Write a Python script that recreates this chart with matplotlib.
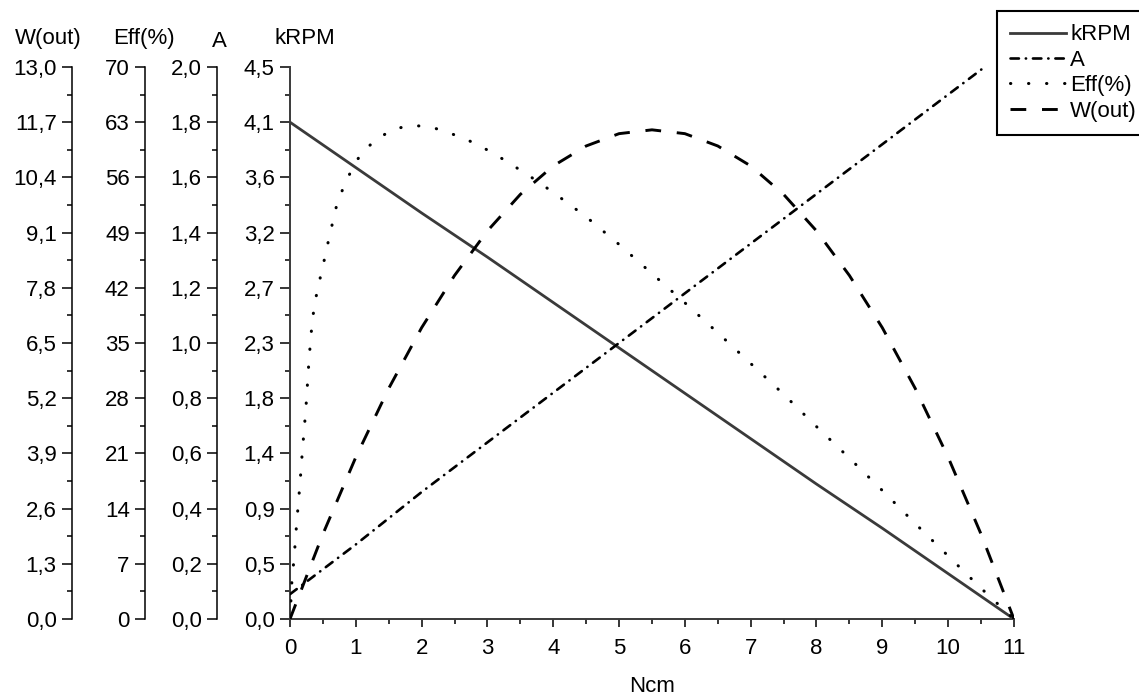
import matplotlib
matplotlib.use("Agg")
import matplotlib.pyplot as plt
from matplotlib.ticker import MultipleLocator

plt.rcParams["font.family"] = ["Liberation Sans", "DejaVu Sans"]
plt.rcParams["font.size"] = 16

# torque axis (Ncm)
torque = [0, 1, 2, 3, 4, 5, 6, 7, 8, 9, 10, 11]
krpm = [4.05, 3.68, 3.31, 2.95, 2.58, 2.21, 1.84, 1.47, 1.10, 0.74, 0.37, 0.0]
amps = [0.09, 0.27, 0.46, 0.64, 0.82, 1.00, 1.18, 1.36, 1.54, 1.72, 1.90, 2.08]

eff_torque = [0, 0.03, 0.06, 0.10, 0.15, 0.19, 0.24, 0.29, 0.34, 0.40, 0.46,
              0.52, 0.58, 0.64, 0.71, 0.81, 0.95, 1.08, 1.28, 1.56, 1.85, 2.14,
              2.40, 2.66, 2.93, 3.18, 3.41, 3.67, 4.0, 4.5, 5.0, 5.5, 6.0, 6.5,
              7.0, 7.5, 8.0, 8.5, 9.0, 9.5, 10.0, 10.5, 11.0]
eff = [0, 5.0, 7.5, 12.0, 17.0, 21.5, 26.5, 33.0, 38.0, 41.0, 43.3,
       45.5, 47.8, 50.0, 52.5, 54.7, 57.2, 59.0, 60.6, 62.1, 62.6, 62.4,
       61.7, 60.9, 59.8, 58.6, 57.4, 56.0, 54.1, 51.0, 47.5, 43.8, 40.1, 36.3,
       32.4, 28.5, 24.4, 20.4, 16.3, 12.1, 8.0, 3.9, 0.0]

w_torque = [0, 0.5, 1, 1.5, 2, 2.5, 3, 3.5, 4, 4.5, 5, 5.5, 6, 6.5, 7, 7.5,
            8, 8.5, 9, 9.5, 10, 10.5, 11]
w_out = [0, 2.00, 3.81, 5.43, 6.86, 8.09, 9.14, 10.00, 10.67, 11.14, 11.43,
         11.52, 11.43, 11.14, 10.67, 10.00, 9.14, 8.09, 6.86, 5.43, 3.81, 2.00, 0]

krpm_labels = ["0,0", "0,5", "0,9", "1,4", "1,8", "2,3", "2,7", "3,2", "3,6", "4,1", "4,5"]
amps_labels = ["0,0", "0,2", "0,4", "0,6", "0,8", "1,0", "1,2", "1,4", "1,6", "1,8", "2,0"]
eff_labels = ["0", "7", "14", "21", "28", "35", "42", "49", "56", "63", "70"]
w_labels = ["0,0", "1,3", "2,6", "3,9", "5,2", "6,5", "7,8", "9,1", "10,4", "11,7", "13,0"]

GRAY = "#3a3a3a"


def style_ticks(a):
    a.tick_params(axis="y", which="major", direction="out", length=7, width=1.1, pad=4)
    a.tick_params(axis="y", which="minor", direction="out", length=3.8, width=1.1)


def side_axis(offset, top, labels):
    a = ax.twinx()
    for s in ("right", "top", "bottom"):
        a.spines[s].set_visible(False)
    a.spines["left"].set_visible(True)
    a.spines["left"].set_position(("axes", offset))
    a.spines["left"].set_linewidth(1.1)
    a.yaxis.set_ticks_position("left")
    a.yaxis.set_label_position("left")
    a.set_ylim(0, top)
    step = top / 10
    a.set_yticks([step * i for i in range(11)], labels)
    a.yaxis.set_minor_locator(MultipleLocator(step / 2))
    style_ticks(a)
    return a


fig = plt.figure(figsize=(11.39, 7.0), dpi=100)
ax = fig.add_axes([0.2546, 0.1157, 0.6356, 0.7886])
ax.set_xlim(0, 11)
ax.set_ylim(0, 4.5)
ax.spines["top"].set_visible(False)
ax.spines["right"].set_visible(False)
for s in ("left", "bottom"):
    ax.spines[s].set_color(GRAY)
    ax.spines[s].set_linewidth(1.4)
ax.set_xticks(range(12))
ax.xaxis.set_minor_locator(MultipleLocator(0.5))
ax.tick_params(axis="x", which="major", direction="out", length=6, width=1.1, pad=8)
ax.tick_params(axis="x", which="minor", direction="out", length=3.5, width=1.1)
ax.set_yticks([0.45 * i for i in range(11)], krpm_labels)
ax.yaxis.set_minor_locator(MultipleLocator(0.225))
style_ticks(ax)
ax.set_xlabel("Ncm", labelpad=12)

ax_a = side_axis(-0.1008, 2.0, amps_labels)
ax_eff = side_axis(-0.2003, 70, eff_labels)
ax_w = side_axis(-0.3011, 13.0, w_labels)

l_krpm, = ax.plot(torque, krpm, color=GRAY, lw=2.0, label="kRPM")
l_a, = ax_a.plot(torque, amps, color="black", lw=1.9, label="A",
                 linestyle=(0, (3.2, 2.6, 0.1, 2.6)), dash_capstyle="round")
l_eff, = ax_eff.plot(eff_torque, eff, color="black", lw=2.2, label="Eff(%)",
                     linestyle=(0, (0.1, 5.8)), dash_capstyle="round")
l_w, = ax_w.plot(w_torque, w_out, color="black", lw=2.1, label="W(out)",
                 linestyle=(0, (5.4, 5.4)), dash_capstyle="butt")

fig.text(15 / 1139, 1 - 44 / 700, "W(out)", ha="left", va="baseline")
fig.text(113 / 1139, 1 - 44 / 700, "Eff(%)", ha="left", va="baseline")
fig.text(212 / 1139, 1 - 47 / 700, "A", ha="left", va="baseline")
fig.text(275 / 1139, 1 - 44 / 700, "kRPM", ha="left", va="baseline")

leg = fig.legend(handles=[l_krpm, l_a, l_eff, l_w], loc="upper left",
                 bbox_to_anchor=(997 / 1139, 1 - 11 / 700), borderaxespad=0,
                 fancybox=False, edgecolor="black", framealpha=1,
                 handlelength=2.5, handletextpad=0.2, labelspacing=0.2,
                 borderpad=0.6)
leg.get_frame().set_linewidth(1.5)

fig.savefig("out.png", dpi=100)
